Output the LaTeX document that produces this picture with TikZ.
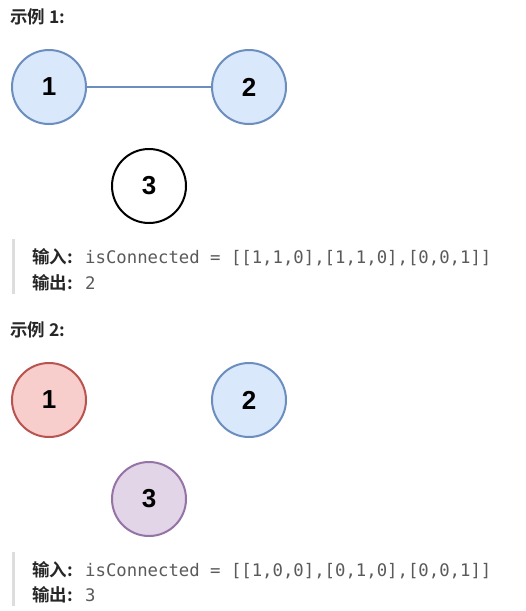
\documentclass[tikz,border=0pt]{standalone}
\usepackage{fontspec}
\setmainfont{Liberation Sans}
\newfontfamily\cjk{Noto Sans CJK SC}[BoldFont={* Bold}]
\newfontfamily\monof{DejaVu Sans Mono}
\definecolor{bluefill}{HTML}{DAE8FC}
\definecolor{bluedraw}{HTML}{6C8EBF}
\definecolor{redfill}{HTML}{F8CECC}
\definecolor{reddraw}{HTML}{B85450}
\definecolor{purfill}{HTML}{E1D5E7}
\definecolor{purdraw}{HTML}{9673A6}
\definecolor{codegray}{HTML}{5A5A5A}
\definecolor{bargray}{HTML}{DDDDDD}
\definecolor{titlecol}{HTML}{262626}
\begin{document}
\begin{tikzpicture}[x=1pt,y=-1pt,
  vert/.style={circle,minimum size=74pt,inner sep=0pt,line width=2pt,font=\fontsize{26}{26}\selectfont\bfseries},
  bluev/.style={vert,draw=bluedraw,fill=bluefill},
  redv/.style={vert,draw=reddraw,fill=redfill},
  purv/.style={vert,draw=purdraw,fill=purfill},
  plainv/.style={vert,draw=black,fill=white},
  title/.style={anchor=base west,inner sep=0pt,text=titlecol,font=\cjk\fontsize{17.5}{17.5}\selectfont\bfseries},
  lab/.style={anchor=base west,inner sep=0pt,text=titlecol,font=\cjk\fontsize{17.5}{17.5}\selectfont\bfseries},
  code/.style={anchor=base west,inner sep=0pt,text=codegray,font=\monof\fontsize{17.3}{17.3}\selectfont},
  bar/.style={draw=bargray,line width=3pt}]
\useasboundingbox[fill=white] (0,0) rectangle (526,611);
% Example 1
\node[title] (t1) at (10,23) {示例 1:};
\node[bluev] (a1) at (49,87) {1};
\node[bluev] (a2) at (249,87) {2};
\node[plainv] (a3) at (149,186) {3};
\draw[draw=bluedraw,line width=2pt] (a1) -- (a2);
\coordinate (b1s) at (13,239);
\coordinate (b1e) at (13,294);
\draw[bar] (b1s) -- (b1e);
\node[lab] (in1) at (32,263) {输入:};
\node[code] (c1) at (85,263) {isConnected = [[1,1,0],[1,1,0],[0,0,1]]};
\node[lab] (out1) at (32,289) {输出:};
\node[code] (o1) at (85,289) {2};
% Example 2
\node[title] (t2) at (10,336) {示例 2:};
\node[redv] (d1) at (49,400) {1};
\node[bluev] (d2) at (249,400) {2};
\node[purv] (d3) at (149,499) {3};
\coordinate (b2s) at (13,552);
\coordinate (b2e) at (13,606);
\draw[bar] (b2s) -- (b2e);
\node[lab] (in2) at (32,576) {输入:};
\node[code] (c2) at (85,576) {isConnected = [[1,0,0],[0,1,0],[0,0,1]]};
\node[lab] (out2) at (32,601) {输出:};
\node[code] (o2) at (85,601) {3};
\end{tikzpicture}
\end{document}
